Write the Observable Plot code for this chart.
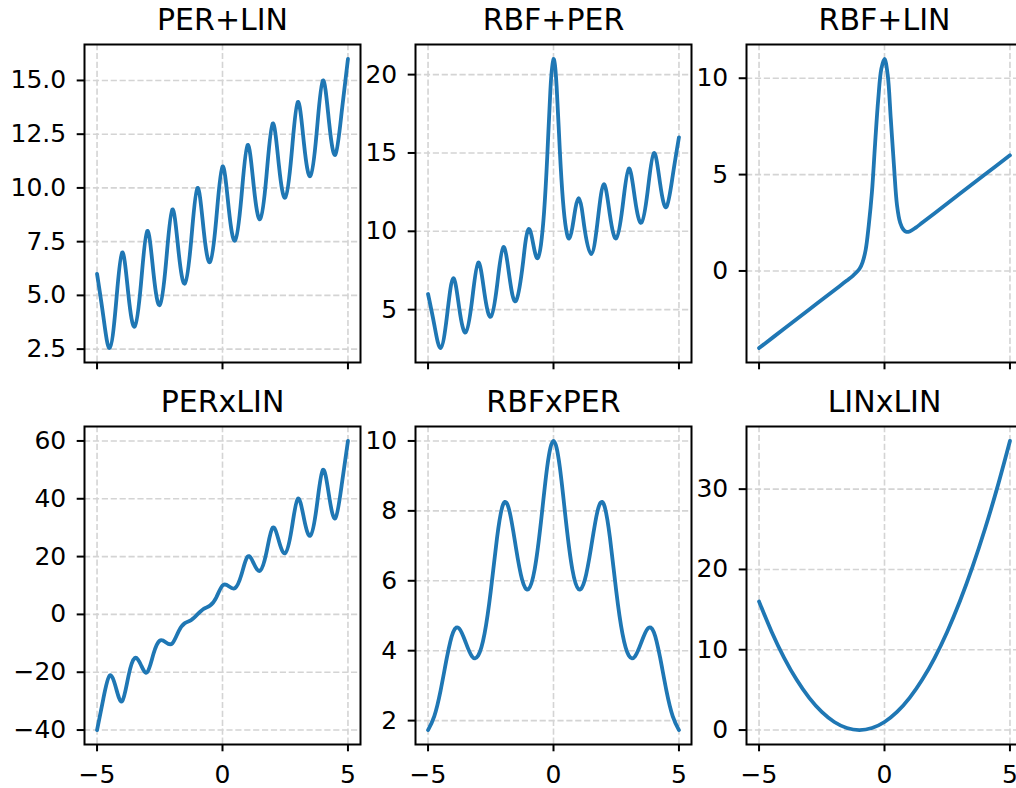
<!DOCTYPE html>
<html><head><meta charset="utf-8">
<script src="https://cdn.jsdelivr.net/npm/d3@7"></script>
<script src="https://cdn.jsdelivr.net/npm/@observablehq/plot@0.6"></script>
<style>
html,body{margin:0;padding:0;background:#fff;}
#fig{position:relative;width:1016px;height:788px;overflow:hidden;font-family:"DejaVu Sans",sans-serif;}
#fig svg{position:absolute;max-width:none;}
</style></head><body><div id="fig"></div>
<script>
// ---- data ----
const titles = ["PER+LIN", "RBF+PER", "RBF+LIN", "PERxLIN", "RBFxPER", "LINxLIN"];
const xTicks = [-5, 0, 5];

const xQuarter = [-5,-4.75,-4.5,-4.25,-4,-3.75,-3.5,-3.25,-3,-2.75,-2.5,-2.25,-2,-1.75,-1.5,-1.25,-1,-0.75,-0.5,-0.25,0,0.25,0.5,0.75,1,1.25,1.5,1.75,2,2.25,2.5,2.75,3,3.25,3.5,3.75,4,4.25,4.5,4.75,5];

const perLinY = [6,4.03,2.55,4.53,7,5.03,3.55,5.53,8,6.03,4.55,6.53,9,7.03,5.55,7.53,10,8.03,6.55,8.53,11,9.03,7.55,9.53,12,10.03,8.55,10.53,13,11.03,9.55,11.53,14,12.03,10.55,12.53,15,13.03,11.55,13.53,16];

const rbfPerX = [-5,-4.75,-4.5,-4.25,-4,-3.75,-3.5,-3.25,-3,-2.75,-2.5,-2.25,-2,-1.75,-1.5,
  -1.25,-1.125,-1,-0.875,-0.75,-0.625,-0.5,-0.375,-0.25,-0.125,0,0.125,0.25,0.375,0.5,0.625,0.75,0.875,1,1.125,1.25,
  1.5,1.75,2,2.25,2.5,2.75,3,3.25,3.5,3.75,4,4.25,4.5,4.75,5];
const rbfPerY = [6,4.03,2.55,4.53,7,5.03,3.55,5.53,8,6.03,4.55,6.53,9,7.03,5.55,
  7.55,9.22,10.12,9.72,8.73,8.29,9.15,11.24,14.73,18.97,21,19.22,15.23,11.99,10.15,9.54,10.23,11.47,12.12,11.47,10.05,
  8.55,10.53,13,11.03,9.55,11.53,14,12.03,10.55,12.53,15,13.03,11.55,13.53,16];

const rbfLinX = [-5,-4,-3,-2,-1.5,-1.25,-1,-0.875,-0.75,-0.625,-0.5,-0.375,-0.25,-0.125,0,0.125,0.25,0.375,0.5,0.625,0.75,0.875,1,1.25,1.5,2,3,4,5];
const rbfLinY = [-4,-3,-2,-1,-0.5,-0.24,0.1,0.45,1.1,2.4,4.1,6.6,8.9,10.5,11,10.2,7.9,5.5,3.4,2.5,2.15,2.03,2.05,2.25,2.5,3,4,5,6];

const perXLinY = [-40,-29.18,-21.18,-25.29,-30,-21.4,-15.13,-17.51,-20,-13.62,-9.08,-9.73,-10,-5.84,-3.03,-1.95,0,1.95,3.03,5.84,10,9.73,9.08,13.62,20,17.51,15.13,21.4,30,25.29,21.18,29.18,40,33.07,27.23,36.96,50,40.85,33.28,44.74,60];

const rbfXPerY = [1.73,2.13,2.86,3.8,4.53,4.63,4.24,3.84,3.86,4.48,5.71,7.23,8.2,7.98,6.96,6.03,5.76,6.33,7.68,9.26,10,9.26,7.68,6.33,5.76,6.03,6.96,7.98,8.2,7.23,5.71,4.48,3.86,3.84,4.24,4.63,4.53,3.8,2.86,2.13,1.73];

const linXLinX = [-5,-4.5,-4,-3.5,-3,-2.5,-2,-1.5,-1,-0.5,0,0.5,1,1.5,2,2.5,3,3.5,4,4.5,5];
const linXLinY = [16,12.25,9,6.25,4,2.25,1,0.25,0,0.25,1,2.25,4,6.25,9,12.25,16,20.25,25,30.25,36];

const yTicksList = [
  [2.5, 5, 7.5, 10, 12.5, 15],
  [5, 10, 15, 20],
  [0, 5, 10],
  [-40, -20, 0, 20, 40, 60],
  [2, 4, 6, 8, 10],
  [0, 10, 20, 30]
];

// ---- layout ----
const colLeft = [84, 415, 746];   // frame left edges
const rowTop = [44, 426];         // frame top edges
const M = {left: 84, right: 10, top: 44, bottom: 45};
const FW = 276, FH = 318;

const panels = [
  {x: xQuarter, y: perLinY, fmt: d3.format(".1f"), curve: "natural"},
  {x: rbfPerX, y: rbfPerY, fmt: d3.format("d"), curve: "natural"},
  {x: rbfLinX, y: rbfLinY, fmt: d3.format("d"), curve: "catmull-rom"},
  {x: xQuarter, y: perXLinY, fmt: d3.format("d"), curve: "natural"},
  {x: xQuarter, y: rbfXPerY, fmt: d3.format("d"), curve: "natural"},
  {x: linXLinX, y: linXLinY, fmt: d3.format("d"), curve: "natural"}
];

const fig = document.getElementById("fig");
panels.forEach((p, i) => {
  const r = Math.floor(i / 3), c = i % 3;
  const data = p.x.map((xv, k) => ({x: xv, y: p.y[k]}));
  const [lo, hi] = d3.extent(p.y);
  const pad = (hi - lo) * 0.05;
  const showX = r === 1;
  const svg = Plot.plot({
    width: M.left + FW + M.right,
    height: M.top + FH + M.bottom,
    marginLeft: M.left, marginRight: M.right, marginTop: M.top, marginBottom: M.bottom,
    style: {fontFamily: '"DejaVu Sans", sans-serif', fontSize: "25px", background: "transparent", overflow: "visible", color: "black"},
    x: {domain: [-5.5, 5.5], label: null},
    y: {domain: [lo - pad, hi + pad], label: null},
    marks: [
      Plot.ruleX(xTicks, {stroke: "#d4d4d4", strokeWidth: 1.6, strokeDasharray: "6.2,2.7"}),
      Plot.ruleY(yTicksList[i], {stroke: "#d4d4d4", strokeWidth: 1.6, strokeDasharray: "6.2,2.7"}),
      Plot.line(data, {x: "x", y: "y", stroke: "#1f77b4", strokeWidth: 3.8, curve: p.curve}),
      Plot.frame({stroke: "black", strokeWidth: 2}),
      Plot.axisY(yTicksList[i], {anchor: "left", tickSize: 7.3, tickPadding: 11, fontSize: 25, tickFormat: p.fmt, strokeWidth: 2, label: null}),
      Plot.axisX(xTicks, {anchor: "bottom", tickSize: 7.3, tickPadding: 13, fontSize: 25, tickFormat: showX ? d3.format("d") : () => "", strokeWidth: 2, label: null}),
      Plot.text([titles[i]], {frameAnchor: "top", lineAnchor: "bottom", dy: -15, fontSize: 30, fill: "black"})
    ]
  });
  svg.style.left = (colLeft[c] - M.left) + "px";
  svg.style.top = (rowTop[r] - M.top) + "px";
  fig.appendChild(svg);
});
</script>
</body></html>
